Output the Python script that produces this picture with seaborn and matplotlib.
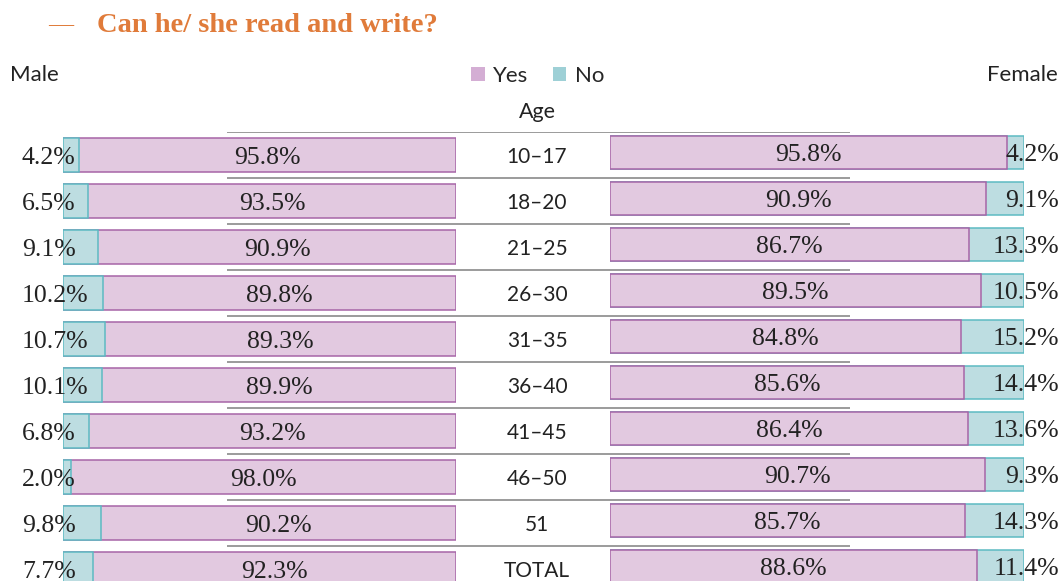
import matplotlib
matplotlib.use("Agg")
import matplotlib.pyplot as plt
import seaborn as sns
import pandas as pd
from matplotlib.patches import Patch
from matplotlib.transforms import blended_transform_factory

# --- data ---
ages = ["10–17", "18–20", "21–25", "26–30", "31–35", "36–40", "41–45", "46–50", "51", "TOTAL"]
male_yes = [95.8, 93.5, 90.9, 89.8, 89.3, 89.9, 93.2, 98.0, 90.2, 92.3]
male_no = [4.2, 6.5, 9.1, 10.2, 10.7, 10.1, 6.8, 2.0, 9.8, 7.7]
female_yes = [95.8, 90.9, 86.7, 89.5, 84.8, 85.6, 86.4, 90.7, 85.7, 88.6]
female_no = [4.2, 9.1, 13.3, 10.5, 15.2, 14.4, 13.6, 9.3, 14.3, 11.4]

YES_FILL, YES_EDGE, YES_KEY = "#E2C9E0", "#A765A7", "#D4AED4"
NO_FILL, NO_EDGE, NO_KEY = "#BDDDE1", "#5DBAC2", "#9ED0D6"
ORANGE = "#E07B3A"
SANS = "Lato"
SERIF = "Liberation Serif"

W, H = 1062, 581


def px_axes(fig, left, top, width, height):
    """Add an axes given in pixel units measured from the top-left."""
    return fig.add_axes([left / W, 1 - (top + height) / H, width / W, height / H])


male = pd.DataFrame({"age": ages, "yes": male_yes, "no": male_no})
male["total"] = male["yes"] + male["no"]
female = pd.DataFrame({"age": ages, "yes": female_yes, "no": female_no})
female["total"] = female["yes"] + female["no"]

sns.set_theme(style="white")
fig = plt.figure(figsize=(W / 100, H / 100), dpi=100)

# separator lines + age labels in the middle
ax_mid = px_axes(fig, 227, 132, 623, 460)
ax_mid.set_xlim(0, 1)
ax_mid.set_ylim(len(ages) - 0.5, -0.5)
for i in range(len(ages)):
    ax_mid.axhline(i - 0.5, color="#808080", lw=1.1)
    ax_mid.text((537 - 227) / 623, i, ages[i], ha="center", va="center_baseline",
                fontsize=15, family=SANS, color="#222222")
ax_mid.axis("off")

# male: No on the left, Yes on the right
ax_m = px_axes(fig, 62.7, 132, 393, 460)
sns.barplot(data=male, x="total", y="age", order=ages, orient="h", width=0.73,
            color=YES_FILL, edgecolor=YES_EDGE, linewidth=1.1, saturation=1, ax=ax_m)
sns.barplot(data=male, x="no", y="age", order=ages, orient="h", width=0.73,
            color=NO_FILL, edgecolor=NO_EDGE, linewidth=1.1, saturation=1, ax=ax_m)
ax_m.set_xlim(0, 100)
ax_m.set_ylim(len(ages) - 0.5, -0.5)
ax_m.axis("off")
trans_m = blended_transform_factory(fig.transFigure, ax_m.transData)
for i, r in male.iterrows():
    ax_m.text(22 / W, i, f"{r['no']:.1f}%", transform=trans_m, ha="left",
              va="center_baseline", fontsize=18.5, family=SERIF, color="#222222")
    ax_m.text((r["no"] + r["total"]) / 2, i, f"{r['yes']:.1f}%", ha="center",
              va="center_baseline", fontsize=18.5, family=SERIF, color="#222222")

# female: Yes on the left, No on the right
ax_f = px_axes(fig, 610, 129.7, 414, 460)
sns.barplot(data=female, x="total", y="age", order=ages, orient="h", width=0.72,
            color=NO_FILL, edgecolor=NO_EDGE, linewidth=1.1, saturation=1, ax=ax_f)
sns.barplot(data=female, x="yes", y="age", order=ages, orient="h", width=0.72,
            color=YES_FILL, edgecolor=YES_EDGE, linewidth=1.1, saturation=1, ax=ax_f)
ax_f.set_xlim(0, 100)
ax_f.set_ylim(len(ages) - 0.5, -0.5)
ax_f.axis("off")
trans_f = blended_transform_factory(fig.transFigure, ax_f.transData)
for i, r in female.iterrows():
    ax_f.text(r["yes"] / 2, i, f"{r['yes']:.1f}%", ha="center",
              va="center_baseline", fontsize=18.5, family=SERIF, color="#222222")
    ax_f.text(1059 / W, i, f"{r['no']:.1f}%", transform=trans_f, ha="right",
              va="center_baseline", fontsize=18.5, family=SERIF, color="#222222")

# headings
fig.text(48 / W, 1 - 24 / H, "—", ha="left", va="center", fontsize=18,
         family=SERIF, color=ORANGE)
fig.text(97 / W, 1 - 26 / H, "Can he/ she read and write?", ha="left", va="center",
         fontsize=20.5, family=SERIF, fontweight="bold", color=ORANGE)
fig.text(10 / W, 1 - 75 / H, "Male", ha="left", va="center", fontsize=16,
         family=SANS, color="#222222")
fig.text(1058 / W, 1 - 75 / H, "Female", ha="right", va="center", fontsize=16,
         family=SANS, color="#222222")
fig.text(537 / W, 1 - 112 / H, "Age", ha="center", va="center", fontsize=15.5,
         family=SANS, color="#222222")

handles = [Patch(facecolor=YES_KEY, edgecolor="none", label="Yes"),
           Patch(facecolor=NO_KEY, edgecolor="none", label="No")]
fig.legend(handles=handles, loc="center", bbox_to_anchor=(538 / W, 1 - 76 / H), ncol=2,
           frameon=False, handlelength=0.6, handleheight=0.6, handletextpad=0.4,
           columnspacing=1.1, prop={"family": SANS, "size": 16})

fig.savefig("out.png", dpi=100)
